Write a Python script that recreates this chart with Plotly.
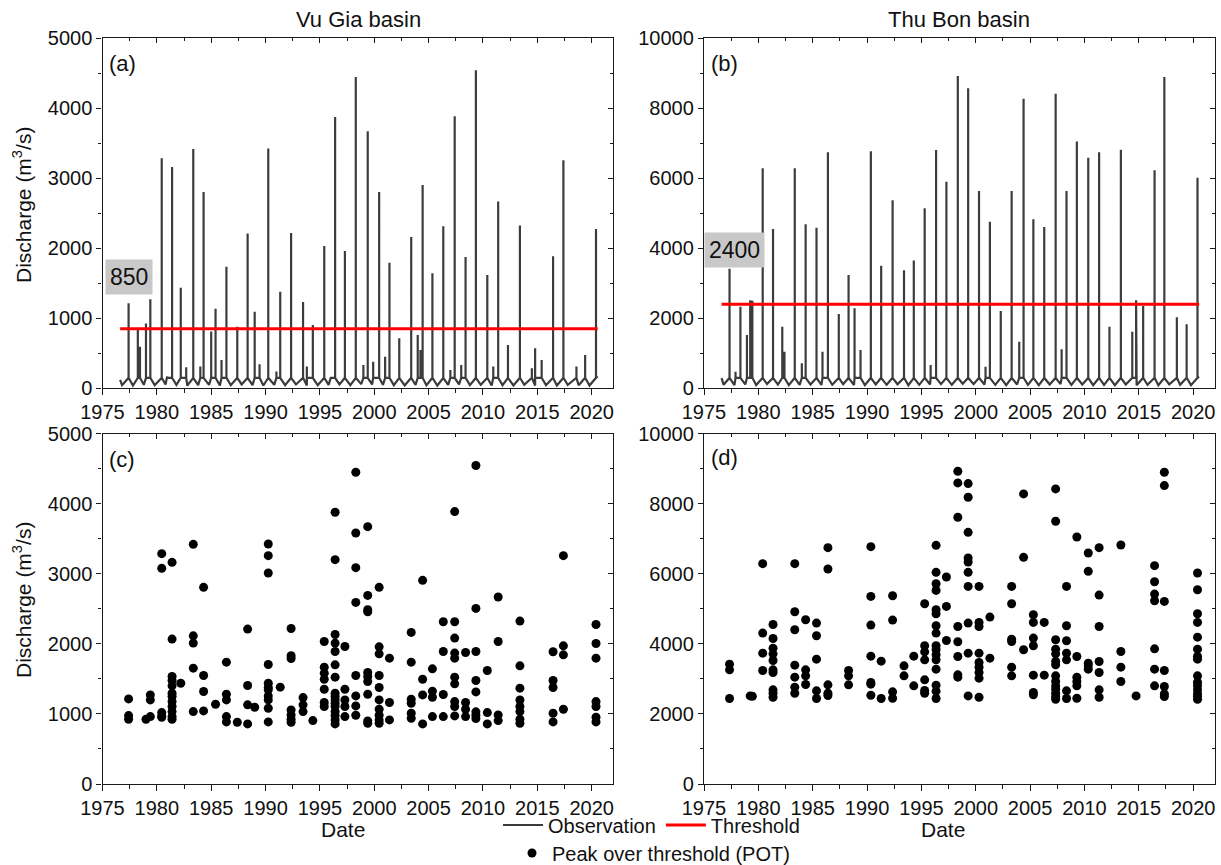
import plotly.graph_objects as go

# ---------------------------------------------------------------- data
# Vu Gia basin: peak-over-threshold events, grouped by flood season
VG_POT_DATES = [1977.4, 1979.0, 1979.4, 1980.45, 1981.4, 1982.2, 1983.35, 1984.3,
                1985.4, 1986.4, 1987.4, 1988.35, 1989.0, 1990.25, 1991.35, 1992.35,
                1993.45, 1994.35, 1995.4, 1996.4, 1997.3, 1998.3, 1999.4, 2000.45,
                2001.4, 2003.4, 2004.45, 2005.35, 2006.35, 2007.4, 2008.4, 2009.35,
                2010.4, 2011.4, 2013.4, 2016.45, 2017.4, 2020.4]
VG_POT_VALUES = [
    [1214, 976, 924],
    [924],
    [1271, 1200, 962],
    [3286, 3076, 1019, 971, 952],
    [3162, 2067, 1533, 1476, 1400, 1295, 1248, 1176, 1105, 1033, 962, 924],
    [1438],
    [3419, 2114, 2010, 1652, 1033],
    [2805, 1548, 1319, 1043],
    [1138],
    [1738, 1281, 1200, 962, 886],
    [881],
    [2210, 1405, 1129, 857],
    [1095],
    [3424, 3257, 3010, 1705, 1438, 1376, 1343, 1257, 1200, 1081, 886],
    [1381],
    [2219, 1829, 1790, 1057, 986, 924, 881],
    [1233, 1129, 1033],
    [905],
    [2033, 1667, 1581, 1495, 1352, 1162, 1105],
    [3876, 3200, 2133, 2010, 1890, 1700, 1524, 1295, 1248, 1200, 1152, 1105, 1033, 976, 914, 857],
    [1962, 1352, 1200, 1105, 962],
    [4448, 3581, 3086, 2590, 1548, 1257, 1114, 981],
    [3671, 2690, 2486, 2457, 1590, 1533, 1462, 1281, 900, 867],
    [2805, 1957, 1857, 1548, 1376, 1200, 1067, 981, 914, 867],
    [1795, 1162, 914],
    [2162, 1738, 1209, 1152, 1010, 938],
    [2905, 1495, 1271, 857],
    [1643, 1324, 1238, 962],
    [2314, 1890, 1276, 962],
    [3886, 2314, 2081, 1867, 1795, 1524, 1429, 1176, 1105, 971],
    [1876, 1162, 1067, 962],
    [4543, 2505, 1890, 1476, 1314, 1029, 981, 933],
    [1619, 1019, 857],
    [2667, 2033, 986, 905],
    [2324, 1686, 1367, 1200, 1105, 1033, 924, 867],
    [1886, 1476, 1376, 1010, 886],
    [3257, 1971, 1843, 1067],
    [2276, 2005, 1795, 1176, 1105, 952, 886],
]
# Vu Gia basin: smaller (sub-threshold) flood peaks of the observed series
VG_SUB_DATES = [1978.25, 1978.45, 1980.95, 1982.7, 1984.0, 1985.0, 1985.95, 1989.45,
                1991.0, 1993.8, 1996.0, 1999.0, 1999.9, 2001.0, 2002.3, 2004.0,
                2004.25, 2007.0, 2008.0, 2010.95, 2012.3, 2014.5, 2014.8, 2015.4,
                2018.6, 2019.4]
VG_SUB_VALUES = [833, 595, 170, 300, 310, 810, 405, 343, 240, 310, 143, 333, 381, 452,
                 714, 762, 548, 262, 333, 310, 619, 286, 571, 405, 310, 476]
# Vu Gia basin: dry-season low flows
VG_LOW_DATES = [1976.62, 1976.8, 1977.8, 1978.8, 1979.8, 1980.8, 1981.8, 1982.8, 1983.8,
                1984.8, 1985.8, 1986.8, 1987.8, 1988.8, 1989.8, 1990.8, 1991.8, 1992.8,
                1993.8, 1994.8, 1995.8, 1996.8, 1997.8, 1998.8, 1999.8, 2000.8, 2001.8,
                2002.8, 2003.8, 2004.8, 2005.8, 2006.8, 2007.8, 2008.8, 2009.8, 2010.8,
                2011.8, 2012.8, 2013.8, 2014.8, 2015.8, 2016.8, 2017.8, 2018.8, 2019.8,
                2020.55]
VG_LOW_VALUES = [120, 45, 40, 50, 45, 55, 50, 40, 45, 50, 40, 45, 55, 45, 40, 50, 45, 55,
                 40, 45, 50, 55, 45, 60, 55, 50, 45, 40, 50, 45, 40, 50, 55, 45, 50, 40,
                 45, 40, 50, 40, 45, 40, 50, 45, 40, 170]
VG_WET_BASE = 150
VG_THRESHOLD = 850

# Thu Bon basin: peak-over-threshold events, grouped by flood season
TB_POT_DATES = [1977.35, 1979.25, 1979.45, 1980.4, 1981.35, 1983.35, 1984.35, 1985.35,
                1986.4, 1988.3, 1990.35, 1991.3, 1992.35, 1993.4, 1994.3, 1995.3,
                1996.35, 1997.3, 1998.35, 1999.3, 2000.3, 2001.3, 2003.3, 2004.4,
                2005.3, 2006.3, 2007.35, 2008.35, 2009.3, 2010.35, 2011.35, 2013.35,
                2014.75, 2016.45, 2017.35, 2020.4]
TB_POT_VALUES = [
    [3419, 3257, 2438],
    [2514],
    [2500],
    [6286, 4305, 3733, 3238],
    [4552, 4152, 3876, 3714, 3524, 3257, 3181, 2686, 2590, 2476],
    [6286, 4914, 4400, 3390, 3048, 2762, 2590],
    [4686, 3257, 3086, 2838],
    [4590, 4229, 3562, 2657, 2438],
    [6743, 6133, 2829, 2590, 2524],
    [3238, 3086, 2829],
    [6771, 5352, 4533, 3648, 2895, 2848, 2533],
    [3505, 2438],
    [5371, 4676, 2629, 2448],
    [3371, 3086],
    [3648, 2800],
    [5143, 3943, 3771, 3543, 2971, 2667, 2590],
    [6810, 6038, 5714, 5524, 4971, 4857, 4514, 4305, 3943, 3829, 3686, 3543, 3276, 2819, 2648, 2438],
    [5905, 5067, 4095],
    [8924, 8590, 7610, 4495, 4057, 3638, 3114, 3048],
    [8571, 8181, 7181, 6448, 6333, 6038, 5638, 4590, 3733, 2514],
    [5638, 4610, 4495, 3733, 3467, 3333, 3181, 3019, 2476],
    [4762, 3590],
    [5638, 5143, 4133, 4067, 3333, 3086],
    [8276, 6467, 3829],
    [4829, 4610, 4162, 3943, 3105, 2610, 2543],
    [4610, 3105],
    [8419, 7495, 4114, 3848, 3714, 3495, 3400, 3086, 2924, 2800, 2705, 2590, 2495, 2419],
    [5638, 4514, 4086, 3733, 3543, 2657, 2438],
    [7048, 3638, 3048, 2924, 2800, 2448],
    [6590, 6067, 3448, 3371, 3276],
    [6743, 5390, 4495, 3495, 3181, 2686, 2476],
    [6819, 3781, 3333, 2924],
    [2514],
    [6229, 5771, 5419, 5229, 3857, 3276, 2800],
    [8895, 8514, 5210, 3238, 2781, 2571, 2495],
    [6019, 5543, 4857, 4610, 4190, 3848, 3638, 3562, 3086, 2905, 2800, 2686, 2571, 2495, 2419],
]
# Thu Bon basin: smaller (sub-threshold) flood peaks of the observed series
TB_SUB_DATES = [1977.9, 1978.35, 1978.95, 1982.2, 1982.4, 1984.0, 1985.9, 1987.4,
                1988.85, 1989.4, 1995.85, 2000.9, 2002.3, 2004.0, 2007.9, 2012.3,
                2014.4, 2015.4, 2018.5, 2019.4]
TB_SUB_VALUES = [476, 2333, 1524, 1762, 1047, 714, 1047, 2124, 2286, 1095, 667, 619,
                 2210, 1333, 1114, 1762, 1619, 2352, 2029, 1829]
# Thu Bon basin: dry-season low flows
TB_LOW_DATES = VG_LOW_DATES[:]
TB_LOW_VALUES = [290, 100, 90, 110, 95, 120, 105, 90, 100, 110, 95, 100, 120, 95, 90, 110,
                 100, 115, 90, 100, 110, 120, 100, 130, 120, 110, 100, 90, 110, 100, 90,
                 110, 120, 100, 110, 90, 100, 90, 110, 90, 100, 90, 110, 100, 90, 330]
TB_WET_BASE = 300
TB_THRESHOLD = 2400

X_TICK_START = 1975
RECORD_START = 1976.62
RECORD_END = 2020.55

# ---------------------------------------------------------------- helpers
def expand(dates, groups):
    xs, ys = [], []
    for d, vals in zip(dates, groups):
        for v in vals:
            xs.append(d)
            ys.append(v)
    return xs, ys


def observed_series(pot_dates, pot_groups, sub_dates, sub_vals, low_dates, low_vals, wet_base):
    events = []
    for d, vals in zip(pot_dates, pot_groups):
        for v in vals:
            events.append((d, 1, v))
    for d, v in zip(sub_dates, sub_vals):
        events.append((d, 1, v))
    for d, v in zip(low_dates, low_vals):
        events.append((d, 0, v))
    events.sort(key=lambda e: (e[0], e[1]))
    xs, ys = [], []
    for d, kind, v in events:
        if kind == 0:
            xs.append(d)
            ys.append(v)
        else:
            xs += [d, d, d]
            ys += [wet_base, v, wet_base]
    return xs, ys


W, H = 1221, 865
FONT = "Arial, 'Liberation Sans', sans-serif"
AX = '#1a1a1a'

XL = [102.5 / W, 613.4 / W]
XR = [704.0 / W, 1214.9 / W]
YT = [1 - 388.3 / H, 1 - 38.3 / H]
YB = [1 - 784.0 / H, 1 - 433.5 / H]

fig = go.Figure()

# Observations
for xs_, ys_, xa, ya, show in [
    (*observed_series(VG_POT_DATES, VG_POT_VALUES, VG_SUB_DATES, VG_SUB_VALUES,
                      VG_LOW_DATES, VG_LOW_VALUES, VG_WET_BASE), 'x', 'y', True),
    (*observed_series(TB_POT_DATES, TB_POT_VALUES, TB_SUB_DATES, TB_SUB_VALUES,
                      TB_LOW_DATES, TB_LOW_VALUES, TB_WET_BASE), 'x2', 'y2', False),
]:
    fig.add_trace(go.Scatter(x=xs_, y=ys_, mode='lines', xaxis=xa, yaxis=ya,
                             line=dict(color='#3c3c3c', width=2.2),
                             name='Observation', showlegend=show, legend='legend',
                             hoverinfo='skip'))

# Thresholds
for thr, xa, ya, show in [(VG_THRESHOLD, 'x', 'y', True), (TB_THRESHOLD, 'x2', 'y2', False)]:
    fig.add_trace(go.Scatter(x=[RECORD_START, RECORD_END], y=[thr, thr], mode='lines',
                             xaxis=xa, yaxis=ya, line=dict(color='#ff0000', width=3),
                             name='Threshold', showlegend=show, legend='legend'))

# POT scatter
for dates, groups, xa, ya, show in [(VG_POT_DATES, VG_POT_VALUES, 'x3', 'y3', True),
                                    (TB_POT_DATES, TB_POT_VALUES, 'x4', 'y4', False)]:
    px_, py_ = expand(dates, groups)
    fig.add_trace(go.Scatter(x=px_, y=py_, mode='markers', xaxis=xa, yaxis=ya,
                             marker=dict(color='black', size=9),
                             name='Peak over threshold (POT)', showlegend=show,
                             legend='legend2'))

# empty traces for the mirrored (inward tick) overlay axes
for k in range(5, 9):
    fig.add_trace(go.Scatter(x=[], y=[], xaxis=f'x{k}', yaxis=f'y{k}',
                             showlegend=False, hoverinfo='skip'))


def xaxis(domain, anchor):
    return dict(domain=domain, anchor=anchor, range=[1975, 2022], tick0=X_TICK_START, dtick=5,
                ticks='outside', ticklen=6, tickwidth=1.2, tickcolor=AX,
                showline=True, linecolor=AX, linewidth=1.3, mirror=True,
                showgrid=False, zeroline=False, automargin=False, tickformat='d',
                tickfont=dict(size=20, color='#111', family=FONT),
                minor=dict(dtick=2.5, tick0=X_TICK_START, ticks='outside', ticklen=4,
                           tickwidth=1.2, tickcolor=AX, showgrid=False))


def yaxis(domain, anchor, ymax, dtick):
    return dict(domain=domain, anchor=anchor, range=[0, ymax], tick0=0, dtick=dtick,
                ticks='outside', ticklen=5, tickwidth=1.2, tickcolor=AX,
                showline=True, linecolor=AX, linewidth=1.3, mirror=True,
                showgrid=False, zeroline=False, automargin=False, tickformat='d',
                tickfont=dict(size=20, color='#111', family=FONT),
                minor=dict(dtick=dtick / 2, tick0=0, ticks='outside', ticklen=3,
                           tickwidth=1.2, tickcolor=AX, showgrid=False))


def xover(base, anchor):
    return dict(overlaying=base, anchor=anchor, side='top', range=[1975, 2022],
                tick0=X_TICK_START, dtick=5, ticks='inside', ticklen=5, tickwidth=1.2,
                tickcolor=AX, showticklabels=False, showline=False, showgrid=False,
                zeroline=False, automargin=False,
                minor=dict(dtick=2.5, tick0=X_TICK_START, ticks='inside', ticklen=3,
                           tickwidth=1.2, tickcolor=AX, showgrid=False))


def yover(base, anchor, ymax, dtick):
    return dict(overlaying=base, anchor=anchor, side='right', range=[0, ymax], tick0=0,
                dtick=dtick, ticks='inside', ticklen=5, tickwidth=1.2, tickcolor=AX,
                showticklabels=False, showline=False, showgrid=False, zeroline=False,
                automargin=False,
                minor=dict(dtick=dtick / 2, tick0=0, ticks='inside', ticklen=3,
                           tickwidth=1.2, tickcolor=AX, showgrid=False))


def ann(text, px, py, size=22, **kw):
    d = dict(text=text, x=px / W, y=1 - py / H, xref='paper', yref='paper',
             xanchor='center', yanchor='middle',
             showarrow=False, font=dict(size=size, color='#111', family=FONT))
    d.update(kw)
    return d


annotations = [
    ann('Vu Gia basin', 358, 20),
    ann('Thu Bon basin', 959, 20),
    ann('(a)', 107, 64, xanchor='left'),
    ann('(b)', 709, 64, xanchor='left'),
    ann('(c)', 107, 459, xanchor='left'),
    ann('(d)', 709, 458, xanchor='left'),
    ann('850', 128.5, 276.5, size=23, bgcolor='#c8c8c8', borderpad=4),
    ann('2400', 734.7, 249.7, size=23, bgcolor='#c8c8c8', borderpad=4),
    ann('Discharge (m<sup>3</sup>/s)', 22, 205, size=21, textangle=-90),
    ann('Discharge (m<sup>3</sup>/s)', 22, 600, size=21, textangle=-90),
    ann('Date', 343, 829, size=21),
    ann('Date', 943, 829, size=21),
]

fig.update_layout(
    width=W, height=H, margin=dict(l=0, r=0, t=0, b=0, autoexpand=False),
    paper_bgcolor='white', plot_bgcolor='white',
    font=dict(family=FONT, size=20, color='#111'),
    xaxis=xaxis(XL, 'y'), yaxis=yaxis(YT, 'x', 5000, 1000),
    xaxis2=xaxis(XR, 'y2'), yaxis2=yaxis(YT, 'x2', 10000, 2000),
    xaxis3=xaxis(XL, 'y3'), yaxis3=yaxis(YB, 'x3', 5000, 1000),
    xaxis4=xaxis(XR, 'y4'), yaxis4=yaxis(YB, 'x4', 10000, 2000),
    xaxis5=xover('x', 'y'), yaxis5=yover('y', 'x', 5000, 1000),
    xaxis6=xover('x2', 'y2'), yaxis6=yover('y2', 'x2', 10000, 2000),
    xaxis7=xover('x3', 'y3'), yaxis7=yover('y3', 'x3', 5000, 1000),
    xaxis8=xover('x4', 'y4'), yaxis8=yover('y4', 'x4', 10000, 2000),
    annotations=annotations,
    legend=dict(orientation='h', x=498 / W, xanchor='left', y=1 - 825 / H,
                yanchor='middle', bgcolor='rgba(0,0,0,0)', font=dict(size=20),
                itemwidth=40, tracegroupgap=0),
    legend2=dict(orientation='h', x=512 / W, xanchor='left', y=1 - 853 / H,
                 yanchor='middle', bgcolor='rgba(0,0,0,0)', font=dict(size=20)),
    showlegend=True,
)

fig.write_html('out.html')
